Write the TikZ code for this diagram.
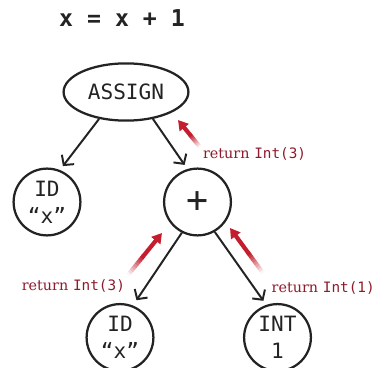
\documentclass[tikz,border=0pt]{standalone}
\usepackage{fontspec}
\setmonofont{DejaVu Sans Mono}
\newfontfamily\retfont{DejaVu Serif}
\usetikzlibrary{arrows.meta,positioning,shapes.geometric,calc}
\definecolor{inkgray}{HTML}{232323}
\definecolor{retred}{HTML}{C41E2E}
\definecolor{labelred}{HTML}{8E1B2B}
\tikzset{
  astnode/.style={circle, draw=inkgray, line width=1.6pt, minimum size=1.67cm, inner sep=0pt, align=center, text=inkgray, font=\ttfamily\fontsize{15}{19}\selectfont},
  edge/.style={-{Straight Barb[length=5pt,width=11pt]}, line width=1.4pt, draw=inkgray, shorten >=3.5pt},
  fadeline/.style={line width=3pt},
  retarrow/.style={-{Triangle[length=7pt,width=8pt]}, line width=3pt, draw=retred},
  retlabel/.style={text=labelred, inner sep=0pt, font=\fontsize{10.2}{12}\selectfont}
}

\begin{document}
\begin{tikzpicture}[x=0.025cm, y=-0.025cm]
  \clip (0,0) rectangle (375,368);
  % source line
  \node[text=inkgray, font=\ttfamily\bfseries\fontsize{16.5}{18}\selectfont] (src) at (122,18) {x = x + 1};

  % tree
  \node[ellipse, draw=inkgray, line width=1.6pt, minimum width=3.12cm, minimum height=1.43cm, text=inkgray, font=\ttfamily\fontsize{15}{19}\selectfont] (assign) at (126,92) {ASSIGN};
  \node[astnode] (idl) at (47,202) {ID\\“x”};
  \node[astnode, font=\ttfamily\fontsize{26}{28}\selectfont] (plus) at (197.5,202) {+};
  \node[astnode] (idb) at (120,337.5) {ID\\“x”};
  \node[astnode] (int) at (277.5,337.5) {INT\\1};

  \draw[edge] (assign.225) -- (idl.68);
  \draw[edge] (assign.315) -- (plus.107);
  \draw[edge, shorten >=4.5pt] (plus.243) -- (idb.68);
  \draw[edge] (plus.300) -- (int.109);

  % return values
  \coordinate (rt1) at (200,147);
  \coordinate (rh1) at (178,120);
  \coordinate (rt2) at (128,275);
  \coordinate (rh2) at (162,233);
  \coordinate (rt3) at (263,273);
  \coordinate (rh3) at (230,228);
  \foreach \t/\h in {rt1/rh1, rt2/rh2, rt3/rh3} {
    \foreach \i in {0,...,8} {
      \pgfmathtruncatemacro\pc{4+\i*12}
      \pgfmathsetmacro\fa{\i*0.05}
      \pgfmathsetmacro\fb{\i*0.05+0.06}
      \draw[fadeline, draw=retred!\pc!white] ($(\t)!\fa!(\h)$) -- ($(\t)!\fb!(\h)$);
    }
    \draw[retarrow] ($(\t)!0.44!(\h)$) -- (\h);
  }

  \node[retlabel, below right=0pt and 2pt of rt1] (lab1) {{\retfont return} \texttt{Int(3)}};
  \node[retlabel, below left=3pt and 2pt of rt2] (lab2) {{\retfont return} \texttt{Int(3)}};
  \node[retlabel, below right=6pt and 6pt of rt3] (lab3) {{\retfont return} \texttt{Int(1)}};
\end{tikzpicture}
\end{document}
